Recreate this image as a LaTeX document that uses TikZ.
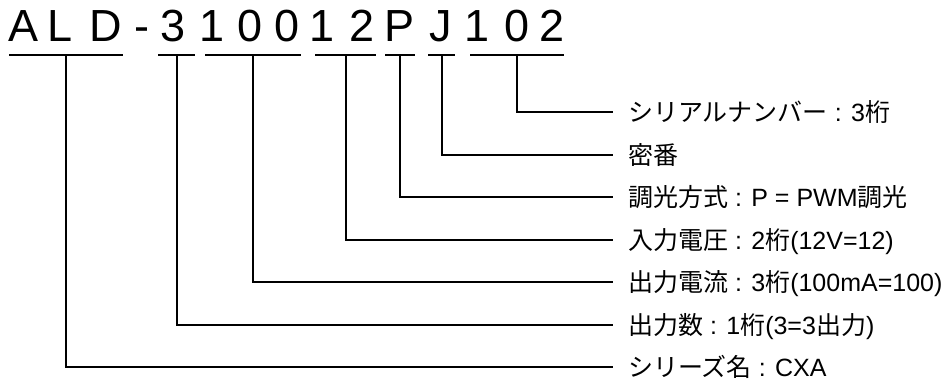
\documentclass[tikz,border=0pt]{standalone}
\usepackage{fontspec}
\setmainfont{Liberation Sans}
\newfontfamily\jp{Noto Sans CJK JP}
\begin{document}
\begin{tikzpicture}[x=1pt,y=-1pt,
  ttl/.style={anchor=base,inner sep=0pt,font=\fontsize{45}{45}\selectfont},
  lab/.style={anchor=west,inner sep=0pt,text height=22pt,text depth=3pt,font=\fontsize{25}{25}\selectfont},
  barnode/.style={fill=black,inner sep=0pt,minimum height=2pt},
  conn/.style={line width=2pt,shorten >=15pt}]
\useasboundingbox[fill=white] (0,0) rectangle (941,381);
% title characters
\node[ttl] (tA) at (24,41) {A};
\node[ttl] (tL) at (60,41) {L};
\node[ttl] (tD) at (106,41) {D};
\node[ttl] (tH) at (142,41) {-};
\node[ttl] (t3) at (173,41) {3};
\node[ttl] (t1a) at (212,41) {1};
\node[ttl] (t0a) at (250,41) {0};
\node[ttl] (t0b) at (287,41) {0};
\node[ttl] (t1b) at (322,41) {1};
\node[ttl] (t2a) at (362,41) {2};
\node[ttl] (tP) at (400,41) {P};
\node[ttl] (tJ) at (441,41) {J};
\node[ttl] (t1c) at (477,41) {1};
\node[ttl] (t0c) at (517,41) {0};
\node[ttl] (t2b) at (552,41) {2};
% bars
\node[barnode,minimum width=114pt] (gALD) at (66,55) {};
\node[barnode,minimum width=37pt] (g3) at (176.5,55) {};
\node[barnode,minimum width=96pt] (g100) at (253,55) {};
\node[barnode,minimum width=61pt] (g12) at (345.5,55) {};
\node[barnode,minimum width=30pt] (gP) at (400,55) {};
\node[barnode,minimum width=27pt] (gJ) at (441.5,55) {};
\node[barnode,minimum width=94pt] (g102) at (517,55) {};
% labels
\node[lab] (l102) at (628,112) {{\jp シリアルナンバー} : 3{\jp 桁}};
\node[lab] (lJ) at (628,154.5) {{\jp 密番}};
\node[lab] (lP) at (628,197) {{\jp 調光方式} : P = PWM{\jp 調光}};
\node[lab] (l12) at (628,239.5) {{\jp 入力電圧} : 2{\jp 桁}(12V=12)};
\node[lab] (l100) at (628,282) {{\jp 出力電流} : 3{\jp 桁}(100mA=100)};
\node[lab] (l3) at (628,324.5) {{\jp 出力数} : 1{\jp 桁}(3=3{\jp 出力})};
\node[lab] (lALD) at (628,367) {{\jp シリーズ名} : CXA};
% connectors
\draw[conn] (g102.center) |- (l102.west);
\draw[conn] (gJ.center) |- (lJ.west);
\draw[conn] (gP.center) |- (lP.west);
\draw[conn] (g12.center) |- (l12.west);
\draw[conn] (g100.center) |- (l100.west);
\draw[conn] (g3.center) |- (l3.west);
\draw[conn] (gALD.center) |- (lALD.west);
\end{tikzpicture}
\end{document}
